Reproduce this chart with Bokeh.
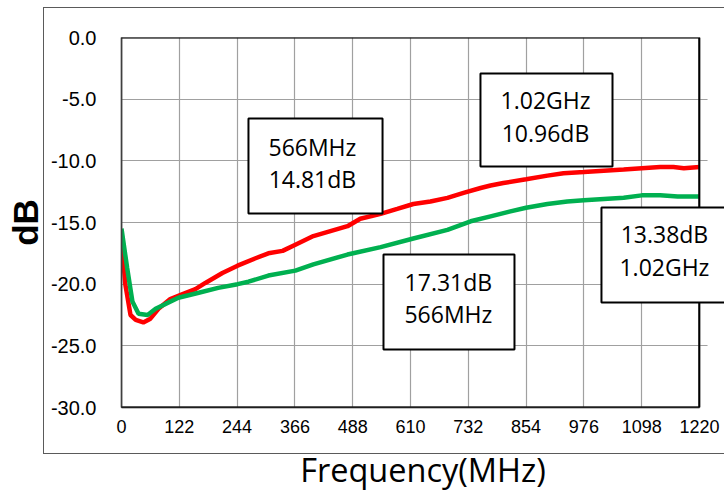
from bokeh.plotting import figure
from bokeh.models import BoxAnnotation, Label, Range1d, InlineStyleSheet
from bokeh.embed import file_html
from bokeh.resources import INLINE

# ---- data ----
red_freq = [0, 8, 19, 30, 46, 61, 78, 103, 129, 156, 177, 213, 245, 283, 310, 340,
            367, 405, 441, 477, 504, 547, 582, 616, 652, 688, 722, 758, 779, 806,
            854, 899, 933, 976, 1018, 1060, 1098, 1137, 1165, 1187, 1220]
red_db = [-16.4, -20.0, -22.5, -22.9, -23.1, -22.8, -22.0, -21.2, -20.8, -20.4, -19.9,
          -19.1, -18.5, -17.9, -17.5, -17.3, -16.8, -16.1, -15.7, -15.3, -14.7, -14.3,
          -13.9, -13.5, -13.3, -13.0, -12.6, -12.2, -12.0, -11.8, -11.5, -11.2, -11.0,
          -10.9, -10.8, -10.7, -10.6, -10.5, -10.5, -10.6, -10.5]

green_freq = [0, 12, 23, 36, 55, 72, 93, 120, 163, 204, 245, 268, 310, 367, 405, 477,
              547, 616, 688, 737, 779, 821, 854, 899, 941, 976, 1018, 1060, 1098,
              1137, 1174, 1220]
green_db = [-15.5, -18.7, -21.4, -22.4, -22.5, -22.0, -21.6, -21.1, -20.7, -20.3, -20.0,
            -19.8, -19.3, -18.9, -18.4, -17.6, -17.0, -16.3, -15.6, -14.9, -14.5, -14.1,
            -13.8, -13.5, -13.3, -13.2, -13.1, -13.0, -12.8, -12.8, -12.9, -12.9]

x_ticks = [0, 122, 244, 366, 488, 610, 732, 854, 976, 1098, 1220]
y_ticks = [0, -5, -10, -15, -20, -25, -30]
y_tick_labels = ["0.0", "-5.0", "-10.0", "-15.0", "-20.0", "-25.0", "-30.0"]

notes = ["566MHz\n14.81dB", "1.02GHz\n10.96dB", "13.38dB\n1.02GHz", "17.31dB\n566MHz"]

X_MAX = 1220
X_VIEW_END = 1272.8   # frame runs on to the right edge so the last note box is not cut

# ---- figure ----
p = figure(width=724, height=495, x_range=Range1d(0, X_VIEW_END), y_range=Range1d(-30, 0),
           output_backend="svg", toolbar_location=None,
           min_border_left=121, min_border_top=37, min_border_right=0, min_border_bottom=88,
           background_fill_color="white", border_fill_color="white")

p.outline_line_color = None

# outer chart-area border (decorative, drawn by CSS around the chart)
p.stylesheets = [InlineStyleSheet(css="""
:host::after {
  content: "";
  position: absolute;
  left: 43px; top: 7px; width: 690px; height: 447px;
  border: 1.5px solid #5a5a5a; border-right: none;
  box-sizing: border-box; pointer-events: none; z-index: 50;
}
""")]

p.xaxis.ticker = x_ticks
p.yaxis.ticker = y_ticks
p.yaxis.major_label_overrides = {t: s for t, s in zip(y_ticks, y_tick_labels)}
p.xaxis.bounds = (0, X_MAX)

for ax in (p.xaxis[0], p.yaxis[0]):
    ax.major_tick_out = 0
    ax.major_tick_in = 0
    ax.minor_tick_out = 0
    ax.minor_tick_in = 0
    ax.axis_line_color = "black"
    ax.axis_line_width = 1.5
    ax.major_label_text_font = "Liberation Sans"
    ax.major_label_text_color = "black"

p.xaxis.major_label_text_font_size = "18px"
p.xaxis.major_label_standoff = 12
p.xaxis.axis_label = "Frequency(MHz)"
p.xaxis.axis_label_text_font = "Open Sans"
p.xaxis.axis_label_text_font_size = "32.5px"
p.xaxis.axis_label_text_font_style = "normal"
p.xaxis.axis_label_text_color = "black"
p.xaxis.axis_label_standoff = 11

p.yaxis.major_label_text_font_size = "20px"
p.yaxis.major_label_standoff = 25
p.yaxis.axis_label = "dB"
p.yaxis.axis_label_text_font = "Liberation Sans"
p.yaxis.axis_label_text_font_size = "35px"
p.yaxis.axis_label_text_font_style = "bold"
p.yaxis.axis_label_text_color = "black"
p.yaxis.axis_label_standoff = 3

p.grid.grid_line_color = "#a0a0a0"
p.grid.grid_line_width = 1.2

# curves
p.line(red_freq, red_db, line_color="#ff0000", line_width=4.5)
p.line(green_freq, green_db, line_color="#00b050", line_width=4.5)

# blank strip right of the plot area (grid lines stop just past the frame)
p.add_layout(BoxAnnotation(left=1237, right=1400, top=5, bottom=-40,
                           fill_color="white", fill_alpha=1.0, line_alpha=0))
# plot-area frame: dark top/left/bottom, grey right edge
p.add_layout(BoxAnnotation(left=0, right=X_MAX, top=0, bottom=-30,
                           fill_alpha=0, line_color="#7f7f7f", line_alpha=1.0, line_width=1.5))
p.add_layout(BoxAnnotation(left=-50, right=X_MAX - 0.5, top=0, bottom=-30,
                           fill_alpha=0, line_color="black", line_alpha=1.0, line_width=2))

# annotation boxes (left, right, top, bottom) and text centres
boxes = [(268, 551, -6.57, -14.27), (757.7, 1036.4, -2.92, -10.46),
         (1013.1, 1283.3, -13.78, -21.49), (553.0, 829.5, -17.59, -25.30)]
centres = [(403, -10.18), (895, -6.41), (1146, -17.27), (690, -21.12)]

for (l, r, t, b) in boxes:
    p.add_layout(BoxAnnotation(left=l, right=r, top=t, bottom=b,
                               fill_color="white", fill_alpha=1.0,
                               line_color="black", line_alpha=1.0, line_width=2))
for (cx, cy), txt in zip(centres, notes):
    p.add_layout(Label(x=cx, y=cy, text=txt, text_align="center", text_baseline="middle",
                       text_font="Open Sans", text_font_size="23px",
                       text_line_height=1.02, text_color="black"))

open("out.html", "w").write(file_html(p, INLINE))
